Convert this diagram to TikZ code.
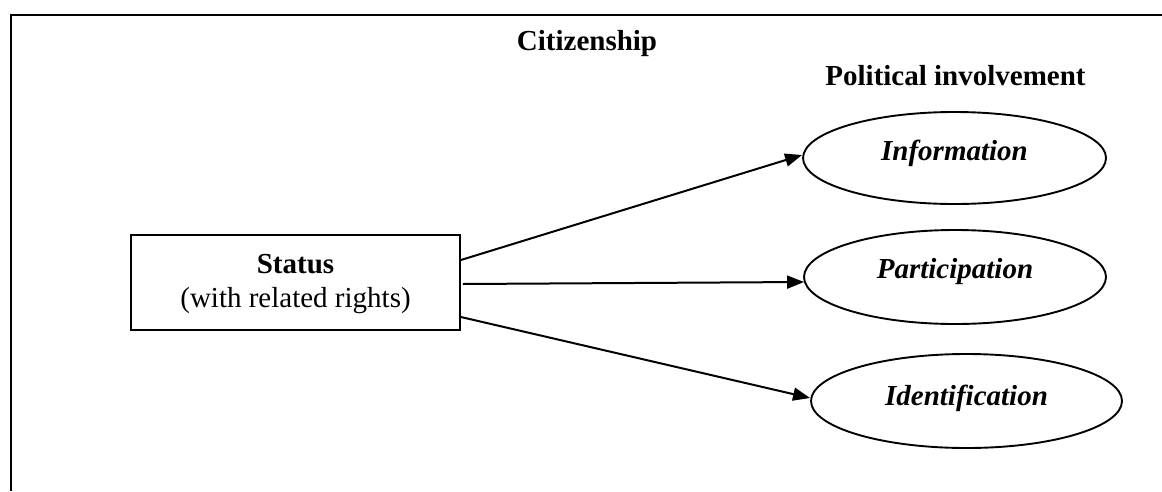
\documentclass[tikz,border=0pt]{standalone}
\usepackage{fontspec}
\setmainfont{Liberation Serif}
\usetikzlibrary{arrows.meta,shapes.geometric}
\begin{document}
\begin{tikzpicture}[x=1pt,y=-1pt,
  txt/.style={inner sep=0pt,anchor=base,font=\fontsize{29}{34}\selectfont},
  bold/.style={txt,font=\fontsize{29}{34}\selectfont\bfseries},
  ital/.style={txt,font=\fontsize{29}{34}\selectfont\bfseries\itshape},
  oval/.style={draw,ellipse,line width=1.9pt,inner sep=0pt},
  box/.style={draw,rectangle,line width=1.8pt,inner sep=0pt,minimum width=329pt,minimum height=95pt},
  link/.style={line width=2pt,-{Triangle[length=17pt,width=13pt]}},
  frame/.style={line width=2.6pt}]
\useasboundingbox (0,0) rectangle (1162,491);
% frame
\coordinate (fbl) at (11,491);
\coordinate (ftl) at (11,15);
\coordinate (ftr) at (1162,15);
\draw[frame] (fbl) -- (ftl) -- (ftr);
% titles
\node[bold] (cit) at (587,50) {Citizenship};
\node[bold] (pol) at (955.5,85) {Political involvement};
% status box
\node[box] (status) at (295.5,282.5) {};
\node[bold] (st1) at (295.5,273) {Status};
\node[txt] (st2) at (295.5,307) {(with related rights)};
% ellipses
\node[oval,minimum width=303pt,minimum height=92pt] (info) at (954.5,158) {};
\node[ital] (infot) at (954.5,160) {Information};
\node[oval,minimum width=302pt,minimum height=94pt] (part) at (955,277) {};
\node[ital] (partt) at (955,278) {Participation};
\node[oval,minimum width=311pt,minimum height=94pt] (ident) at (966.5,401) {};
\node[ital] (identt) at (966.5,405) {Identification};
% arrows
\draw[link] ([yshift=22.5pt]status.east) -- ([yshift=3pt]info.west);
\draw[link] ([xshift=2pt,yshift=-1.5pt]status.east) -- ([xshift=1pt,yshift=-5pt]part.west);
\draw[link] ([yshift=-34.5pt]status.east) -- ([yshift=3pt]ident.west);
\end{tikzpicture}
\end{document}
